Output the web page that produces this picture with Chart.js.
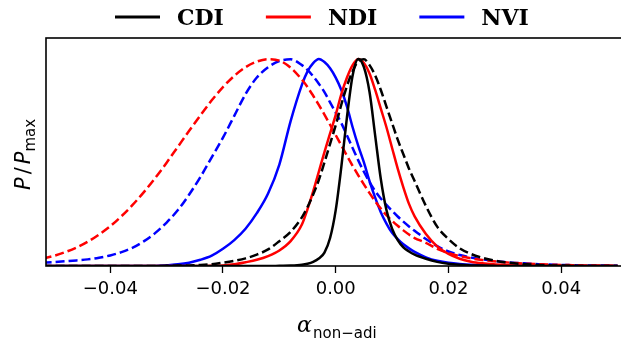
<!DOCTYPE html>
<html>
<head>
<meta charset="utf-8">
<script src="https://cdn.jsdelivr.net/npm/chart.js@4"></script>
<style>
  html, body { margin: 0; padding: 0; background: #fff; overflow: hidden; }
  #wrap { width: 621px; height: 343px; overflow: hidden; }
  canvas { display: block; }
</style>
</head>
<body>
<div id="wrap"><canvas id="chart" width="630" height="343"></canvas></div>
<script>
// alpha grid (coarse in tails, fine around the peaks)
const xGrid = [
  -0.052, -0.050, -0.048, -0.046, -0.044, -0.042, -0.040, -0.038, -0.036, -0.034, -0.032, -0.030,
  -0.028, -0.026, -0.024, -0.022, -0.020, -0.018, -0.016, -0.014, -0.012, -0.010, -0.008,
  -0.006, -0.005, -0.004, -0.003, -0.002, -0.001, 0.000, 0.001, 0.002, 0.003, 0.004, 0.005,
  0.006, 0.007, 0.008, 0.009, 0.010, 0.011, 0.012, 0.013, 0.014,
  0.016, 0.018, 0.020, 0.022, 0.024, 0.026, 0.028, 0.030, 0.032, 0.034, 0.036, 0.038,
  0.040, 0.042, 0.044, 0.046, 0.048, 0.050
];
const xTicks = [-0.04, -0.02, 0.00, 0.02, 0.04];

// P / Pmax
const cdiSolid = [
  0, 0, 0, 0, 0, 0, 0, 0, 0, 0, 0, 0,
  0, 0, 0, 0, 0, 0, 0, 0, 0, 0.001, 0.002,
  0.006, 0.011, 0.02, 0.036, 0.065, 0.135, 0.27, 0.48, 0.72, 0.92, 1.0, 0.96,
  0.84, 0.63, 0.42, 0.27, 0.18, 0.125, 0.09, 0.07, 0.055,
  0.035, 0.02, 0.011, 0.006, 0.003, 0.002, 0.001, 0, 0, 0, 0, 0,
  0, 0, 0, 0, 0, 0
];
const cdiDashed = [
  0, 0, 0, 0, 0, 0, 0, 0, 0, 0, 0, 0.001,
  0.002, 0.003, 0.005, 0.009, 0.016, 0.025, 0.037, 0.055, 0.08, 0.12, 0.165,
  0.235, 0.285, 0.345, 0.415, 0.50, 0.59, 0.68, 0.78, 0.87, 0.94, 0.99, 0.998,
  0.97, 0.92, 0.85, 0.77, 0.69, 0.61, 0.54, 0.47, 0.41,
  0.29, 0.19, 0.13, 0.085, 0.058, 0.04, 0.027, 0.018, 0.012, 0.008, 0.005, 0.003,
  0.002, 0.001, 0, 0, 0, 0
];
const ndiSolid = [
  0, 0, 0, 0, 0, 0, 0, 0, 0, 0, 0, 0,
  0, 0, 0, 0.001, 0.003, 0.008, 0.018, 0.03, 0.048, 0.075, 0.12,
  0.20, 0.275, 0.36, 0.455, 0.55, 0.64, 0.73, 0.83, 0.91, 0.97, 1.0, 0.98,
  0.93, 0.85, 0.76, 0.67, 0.57, 0.47, 0.38, 0.30, 0.24,
  0.155, 0.095, 0.058, 0.035, 0.021, 0.013, 0.008, 0.005, 0.003, 0.002, 0.001, 0,
  0, 0, 0, 0, 0, 0
];
const ndiDashed = [
  0.036, 0.049, 0.067, 0.089, 0.117, 0.152, 0.192, 0.241, 0.296, 0.358, 0.426, 0.499,
  0.576, 0.653, 0.728, 0.800, 0.864, 0.918, 0.960, 0.987, 0.999, 0.992, 0.958,
  0.90, 0.864, 0.822, 0.778, 0.731, 0.682, 0.632, 0.582, 0.532, 0.484, 0.438, 0.394,
  0.352, 0.313, 0.277, 0.245, 0.218, 0.194, 0.172, 0.152, 0.135,
  0.112, 0.083, 0.063, 0.048, 0.037, 0.029, 0.023, 0.018, 0.014, 0.011, 0.009, 0.007,
  0.005, 0.004, 0.003, 0.002, 0.002, 0.001
];
const nviSolid = [
  0, 0, 0, 0, 0, 0, 0, 0, 0, 0, 0, 0.004,
  0.008, 0.016, 0.03, 0.05, 0.083, 0.125, 0.18, 0.255, 0.35, 0.49, 0.70,
  0.875, 0.94, 0.98, 1.0, 0.985, 0.955, 0.91, 0.85, 0.77, 0.67, 0.58, 0.50,
  0.41, 0.33, 0.26, 0.205, 0.16, 0.13, 0.105, 0.085, 0.068,
  0.042, 0.025, 0.016, 0.010, 0.006, 0.004, 0.003, 0.002, 0.001, 0, 0, 0,
  0, 0, 0, 0, 0, 0
];
const nviDashed = [
  0.016, 0.019, 0.023, 0.027, 0.032, 0.040, 0.051, 0.067, 0.089, 0.12, 0.16, 0.21,
  0.27, 0.345, 0.43, 0.525, 0.62, 0.725, 0.83, 0.91, 0.96, 0.99, 0.998,
  0.97, 0.947, 0.916, 0.88, 0.84, 0.79, 0.74, 0.69, 0.63, 0.57, 0.51, 0.455,
  0.405, 0.362, 0.326, 0.295, 0.266, 0.239, 0.214, 0.191, 0.17,
  0.13, 0.096, 0.07, 0.053, 0.041, 0.032, 0.025, 0.019, 0.015, 0.012, 0.009, 0.007,
  0.005, 0.004, 0.003, 0.002, 0.002, 0.001
];

const legendNames = ['CDI', 'NDI', 'NVI'];
const colors = ['#000000', '#ff0000', '#0000ff'];

function series(values, color, dashed) {
  return {
    data: xGrid.map((x, i) => ({ x: x, y: values[i] })),
    borderColor: color,
    borderWidth: 2.5,
    borderDash: dashed ? [9, 4] : [],
    pointRadius: 0,
    fill: false,
    cubicInterpolationMode: 'monotone'
  };
}

// frame drawn over the curves, like matplotlib spines
const framePlugin = {
  id: 'frame',
  afterDatasetsDraw: (chart) => {
    const { ctx, chartArea } = chart;
    ctx.save();
    ctx.strokeStyle = '#000';
    ctx.lineWidth = 1.6;
    ctx.strokeRect(chartArea.left, chartArea.top, chartArea.right - chartArea.left, chartArea.bottom - chartArea.top);
    ctx.restore();
  }
};

// legend + axis labels with subscripts
const labelsPlugin = {
  id: 'mathLabels',
  afterDraw: (chart) => {
    const { ctx } = chart;
    ctx.save();
    ctx.fillStyle = '#000';
    ctx.textBaseline = 'alphabetic';

    // legend
    let lx = 115;
    const ly = 17;
    ctx.font = 'bold 22px "DejaVu Serif"';
    legendNames.forEach((name, i) => {
      ctx.strokeStyle = colors[i];
      ctx.lineWidth = 3;
      ctx.beginPath();
      ctx.moveTo(lx, ly);
      ctx.lineTo(lx + 45, ly);
      ctx.stroke();
      ctx.fillStyle = '#000';
      ctx.fillText(name, lx + 62, ly + 8);
      lx += 62 + ctx.measureText(name).width + 42;
    });

    // x label: alpha_non-adi
    ctx.font = 'italic 22px "DejaVu Serif"';
    ctx.fillText('α', 297, 332);
    ctx.font = '15px "DejaVu Sans"';
    ctx.fillText('non−adi', 313, 338);

    // y label: P / P_max
    ctx.translate(30, 190);
    ctx.rotate(-Math.PI / 2);
    ctx.font = 'italic 21px "DejaVu Sans"';
    let tx = 0;
    ctx.fillText('P', tx, 0);
    tx += ctx.measureText('P').width + 3;
    ctx.font = '21px "DejaVu Sans"';
    ctx.fillText('/', tx, 0);
    tx += ctx.measureText('/').width + 3;
    ctx.font = 'italic 21px "DejaVu Sans"';
    ctx.fillText('P', tx, 0);
    tx += ctx.measureText('P').width;
    ctx.font = '15px "DejaVu Sans"';
    ctx.fillText('max', tx, 5);
    ctx.restore();
  }
};

new Chart(document.getElementById('chart').getContext('2d'), {
  type: 'line',
  data: {
    datasets: [
      series(cdiSolid, colors[0], false),
      series(cdiDashed, colors[0], true),
      series(ndiSolid, colors[1], false),
      series(ndiDashed, colors[1], true),
      series(nviSolid, colors[2], false),
      series(nviDashed, colors[2], true)
    ]
  },
  options: {
    responsive: false,
    animation: false,
    devicePixelRatio: 1,
    layout: { padding: { left: 46, top: 38, right: 4, bottom: 0 } },
    plugins: { legend: { display: false }, tooltip: { enabled: false } },
    scales: {
      x: {
        type: 'linear',
        min: -0.0514,
        max: 0.0515,
        afterBuildTicks: (scale) => { scale.ticks = xTicks.map(v => ({ value: v })); },
        afterFit: (scale) => { scale.height = 77; },
        ticks: {
          autoSkip: false,
          maxRotation: 0,
          padding: 6,
          color: '#000',
          font: { family: 'DejaVu Sans', size: 18 },
          callback: (v) => (Math.abs(v) < 1e-9 ? '0.00' : v.toFixed(2).replace('-', '−'))
        },
        grid: { drawOnChartArea: false, drawTicks: true, tickLength: 7, tickWidth: 1.3, color: '#000' },
        border: { display: false }
      },
      y: { display: false, min: 0, max: 1.101 }
    }
  },
  plugins: [framePlugin, labelsPlugin]
});
</script>
</body>
</html>
